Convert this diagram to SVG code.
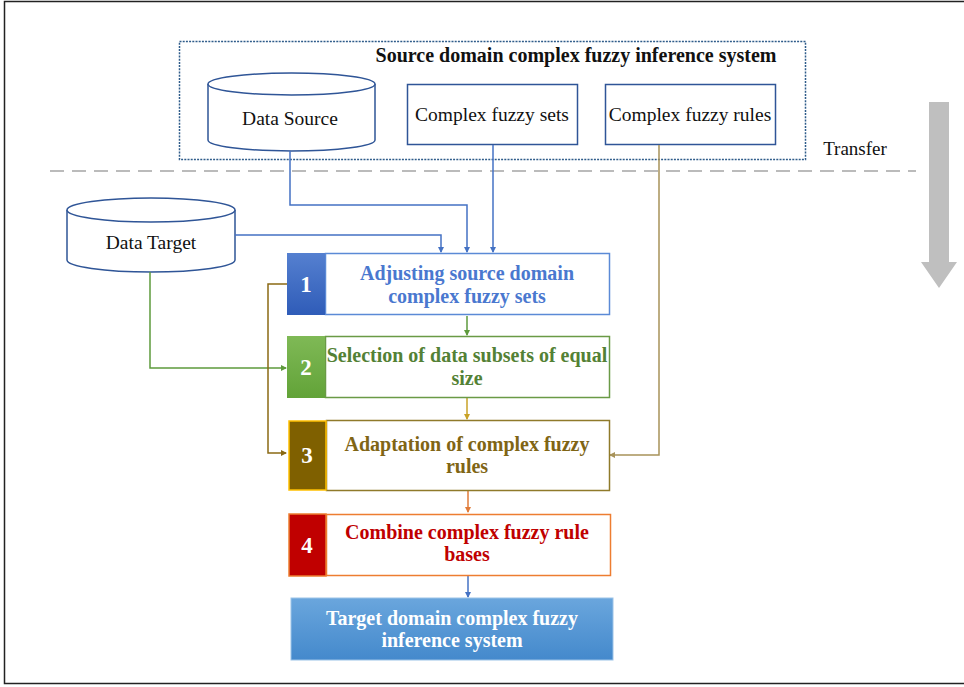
<svg xmlns="http://www.w3.org/2000/svg" width="964" height="687" viewBox="0 0 964 687" font-family="'Liberation Serif', 'DejaVu Serif', 'Times New Roman', Times, serif">
<style>
text{font-family:'Liberation Serif','DejaVu Serif','Times New Roman',Times,serif;}
.lbl{font-size:19.5px;fill:#111;text-anchor:middle;}
.step{font-size:20px;font-weight:bold;text-anchor:middle;}
.num{font-size:23px;font-weight:bold;fill:#fff;text-anchor:middle;}
.cyl{fill:#fff;stroke:#2f5597;stroke-width:1.5;}
.box{fill:#fff;stroke:#2f5597;stroke-width:1.5;}
.c{fill:none;stroke-width:1.5;}
</style>
<defs>
<linearGradient id="g1" x1="0" y1="0" x2="0" y2="1"><stop offset="0" stop-color="#5580d0"/><stop offset="1" stop-color="#2f5cb8"/></linearGradient>
<linearGradient id="g2" x1="0" y1="0" x2="0" y2="1"><stop offset="0" stop-color="#7fb956"/><stop offset="1" stop-color="#62a338"/></linearGradient>
<linearGradient id="gt" x1="0" y1="0" x2="0" y2="1"><stop offset="0" stop-color="#6aa6dd"/><stop offset="1" stop-color="#4489cc"/></linearGradient>
<marker id="aB" markerWidth="6" markerHeight="6" refX="5" refY="3" orient="auto" markerUnits="userSpaceOnUse"><path d="M0,0 L6,3 L0,6 z" fill="#4472c4"/></marker>
<marker id="aG" markerWidth="6" markerHeight="6" refX="5" refY="3" orient="auto" markerUnits="userSpaceOnUse"><path d="M0,0 L6,3 L0,6 z" fill="#5e9a3c"/></marker>
<marker id="aO" markerWidth="6" markerHeight="6" refX="5" refY="3" orient="auto" markerUnits="userSpaceOnUse"><path d="M0,0 L6,3 L0,6 z" fill="#8b6914"/></marker>
<marker id="aY" markerWidth="6" markerHeight="6" refX="5" refY="3" orient="auto" markerUnits="userSpaceOnUse"><path d="M0,0 L6,3 L0,6 z" fill="#c9a227"/></marker>
<marker id="aT" markerWidth="6" markerHeight="6" refX="5" refY="3" orient="auto" markerUnits="userSpaceOnUse"><path d="M0,0 L6,3 L0,6 z" fill="#a8935a"/></marker>
<marker id="aR" markerWidth="6" markerHeight="6" refX="5" refY="3" orient="auto" markerUnits="userSpaceOnUse"><path d="M0,0 L6,3 L0,6 z" fill="#e07b39"/></marker>
</defs>
<rect x="0" y="0" width="964" height="687" fill="#fff"/>
<rect x="4.5" y="1.5" width="970" height="682" fill="none" stroke="#222" stroke-width="1.5"/>

<g id="source-system">
<rect x="179.5" y="41.5" width="626" height="118" fill="none" stroke="#2f5c8a" stroke-width="1.5" stroke-dasharray="2,1.2"/>
<text x="576" y="62" font-size="20" font-weight="bold" text-anchor="middle" fill="#111">Source domain complex fuzzy inference system</text>
</g>

<g id="data-source">
<path class="cyl" d="M208,84 L208,140 A83.5,11 0 0 0 375,140 L375,84"/>
<ellipse class="cyl" cx="291.5" cy="84" rx="83.5" ry="11"/>
<text class="lbl" x="290" y="125">Data Source</text>
</g>

<g id="complex-fuzzy-sets">
<rect class="box" x="407.5" y="84.5" width="170" height="60"/>
<text class="lbl" x="492" y="121">Complex fuzzy sets</text>
</g>

<g id="complex-fuzzy-rules">
<rect class="box" x="605.5" y="84.5" width="170" height="60"/>
<text class="lbl" x="690" y="121">Complex fuzzy rules</text>
</g>

<g id="transfer">
<line x1="50" y1="171" x2="916" y2="171" stroke="#bbb" stroke-width="2" stroke-dasharray="14,8"/>
<text x="855" y="155" font-size="19" text-anchor="middle" fill="#111">Transfer</text>
<polygon points="929,102 949,102 949,262 957,262 939,288 921,262 929,262" fill="#bfbfbf"/>
</g>

<g id="data-target">
<path class="cyl" d="M67,210 L67,260 A84,12 0 0 0 235,260 L235,210"/>
<ellipse class="cyl" cx="151" cy="210" rx="84" ry="12"/>
<text class="lbl" x="151" y="249">Data Target</text>
</g>

<g id="connectors">
<path class="c" stroke="#4472c4" d="M290,151 V205 H467 V252" marker-end="url(#aB)"/>
<path class="c" stroke="#4472c4" d="M493,145 V252" marker-end="url(#aB)"/>
<path class="c" stroke="#4472c4" d="M235,235 H441 V252" marker-end="url(#aB)"/>
<path class="c" stroke="#5e9a3c" d="M467,316 V335" marker-end="url(#aG)"/>
<path class="c" stroke="#5e9a3c" d="M150,272 V368 H286" marker-end="url(#aG)"/>
<path class="c" stroke="#8b6914" d="M287,284 H268 V453 H286" marker-end="url(#aO)"/>
<path class="c" stroke="#c9a227" d="M467,398 V419" marker-end="url(#aY)"/>
<path class="c" stroke="#a8935a" stroke-width="2" d="M659,145 V455 H610" marker-end="url(#aT)"/>
<path class="c" stroke="#e07b39" d="M468,491 V512" marker-end="url(#aR)"/>
<path class="c" stroke="#4472c4" d="M468,576 V597" marker-end="url(#aB)"/>
</g>

<g id="step1">
<rect x="325.5" y="253.5" width="284" height="61" fill="#fff" stroke="#5b8ad6" stroke-width="1.5"/>
<rect x="287" y="253" width="38" height="62" fill="url(#g1)"/>
<text class="num" x="306" y="292">1</text>
<text class="step" fill="#4a78cf" x="467" y="280">Adjusting source domain</text>
<text class="step" fill="#4a78cf" x="467" y="303">complex fuzzy sets</text>
</g>

<g id="step2">
<rect x="325.5" y="336.5" width="284" height="61" fill="#fff" stroke="#6a9a46" stroke-width="1.5"/>
<rect x="287" y="336" width="38" height="62" fill="url(#g2)"/>
<text class="num" x="306" y="375">2</text>
<text class="step" fill="#538135" x="467" y="362">Selection of data subsets of equal</text>
<text class="step" fill="#538135" x="467" y="385">size</text>
</g>

<g id="step3">
<rect x="326.5" y="420.5" width="283" height="70" fill="#fff" stroke="#8f7a2a" stroke-width="1.5"/>
<rect x="289" y="421" width="37" height="69" fill="#7f6000" stroke="#ffc000" stroke-width="1.5"/>
<text class="num" x="307" y="463">3</text>
<text class="step" fill="#806515" x="467" y="451">Adaptation of complex fuzzy</text>
<text class="step" fill="#806515" x="467" y="473">rules</text>
</g>

<g id="step4">
<rect x="326.5" y="514.5" width="284" height="61" fill="#fff" stroke="#ed7d31" stroke-width="1.5"/>
<rect x="289" y="514" width="37" height="62" fill="#c00000" stroke="#ed7d31" stroke-width="1.5"/>
<text class="num" x="307" y="553">4</text>
<text class="step" fill="#c00000" x="467" y="539">Combine complex fuzzy rule</text>
<text class="step" fill="#c00000" x="467" y="561">bases</text>
</g>

<g id="target-system">
<rect x="291" y="598" width="322" height="62" fill="url(#gt)" stroke="#9cc3e8" stroke-width="1"/>
<text class="step" fill="#fff" x="452" y="625">Target domain complex fuzzy</text>
<text class="step" fill="#fff" x="452" y="647">inference system</text>
</g>
</svg>
